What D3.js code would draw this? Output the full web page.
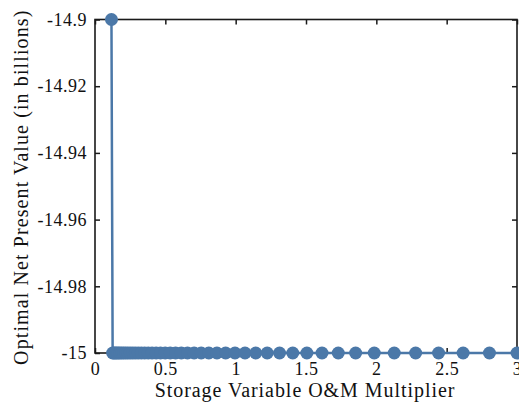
<!DOCTYPE html>
<html>
<head>
<meta charset="utf-8">
<script src="https://cdn.jsdelivr.net/npm/d3@7"></script>
<style>
  html, body { margin: 0; padding: 0; background: #fff; }
  svg { display: block; }
  text { font-family: "Liberation Serif", "DejaVu Serif", serif; fill: #111; }
</style>
</head>
<body>
<svg id="chart" width="519" height="409"></svg>
<script>
// Storage variable O&M multiplier values
const multipliers = [
  0.117, 0.1254, 0.1343, 0.1439, 0.1542, 0.1652, 0.1770, 0.1897, 0.2033, 0.2178,
  0.2334, 0.2501, 0.2680, 0.2871, 0.3077, 0.3297, 0.3532, 0.3785, 0.4055, 0.4345,
  0.4656, 0.4989, 0.5345, 0.5728, 0.6137, 0.6576, 0.7046, 0.7550, 0.8090, 0.8668,
  0.9288, 0.9952, 1.0664, 1.1426, 1.2243, 1.3119, 1.4057, 1.5062, 1.6139, 1.7293,
  1.8529, 1.9854, 2.1273, 2.2794, 2.4424, 2.6170, 2.8041, 3.0
];
// Optimal net present value (billions) at each multiplier
const npvValues = [
  -14.9, -15, -15, -15, -15, -15, -15, -15, -15, -15,
  -15, -15, -15, -15, -15, -15, -15, -15, -15, -15,
  -15, -15, -15, -15, -15, -15, -15, -15, -15, -15,
  -15, -15, -15, -15, -15, -15, -15, -15, -15, -15,
  -15, -15, -15, -15, -15, -15, -15, -15
];
const xTicks = [0, 0.5, 1, 1.5, 2, 2.5, 3];
const xTickLabels = ["0", "0.5", "1", "1.5", "2", "2.5", "3"];
const yTicks = [-15, -14.98, -14.96, -14.94, -14.92, -14.9];
const yTickLabels = ["-15", "-14.98", "-14.96", "-14.94", "-14.92", "-14.9"];

const W = 519, H = 409;
const margin = { top: 19.5, right: 2, bottom: 56, left: 95 };
const svg = d3.select("#chart");

const x = d3.scaleLinear().domain([0, 3]).range([margin.left, W - margin.right]);
const y = d3.scaleLinear().domain([-15, -14.9]).range([H - margin.bottom, margin.top]);

const axisColor = "#1a1a1a";
const tickLen = 5;

// Frame lines and inward ticks on all four sides
function styleAxis(g) {
  g.select(".domain").remove();
  g.selectAll(".tick line").attr("stroke", axisColor).attr("stroke-width", 1.5);
}

svg.append("g")
  .attr("transform", `translate(0,${y(-15)})`)
  .call(d3.axisBottom(x).tickValues(xTicks).tickSizeInner(-tickLen).tickSizeOuter(0)
    .tickFormat((d, i) => xTickLabels[i]).tickPadding(9))
  .call(styleAxis)
  .call(g => g.selectAll(".tick text").attr("font-size", 18).attr("fill", "#111")
    .attr("font-family", "'Liberation Serif', serif").attr("letter-spacing", 0.5));

svg.append("g")
  .attr("transform", `translate(0,${y(-14.9)})`)
  .call(d3.axisTop(x).tickValues(xTicks).tickSizeInner(-tickLen).tickSizeOuter(0).tickFormat(""))
  .call(styleAxis);

svg.append("g")
  .attr("transform", `translate(${x(0)},0)`)
  .call(d3.axisLeft(y).tickValues(yTicks).tickSizeInner(-tickLen).tickSizeOuter(0)
    .tickFormat((d, i) => yTickLabels[i]).tickPadding(8))
  .call(styleAxis)
  .call(g => g.selectAll(".tick text").attr("font-size", 18).attr("fill", "#111")
    .attr("font-family", "'Liberation Serif', serif").attr("letter-spacing", 0.5));

svg.append("g")
  .attr("transform", `translate(${x(3)},0)`)
  .call(d3.axisRight(y).tickValues(yTicks).tickSizeInner(-tickLen).tickSizeOuter(0).tickFormat(""))
  .call(styleAxis);

svg.append("rect")
  .attr("x", x(0)).attr("y", y(-14.9))
  .attr("width", x(3) - x(0)).attr("height", y(-15) - y(-14.9))
  .attr("fill", "none").attr("stroke", axisColor).attr("stroke-width", 1.6);

// Axis titles
svg.append("text")
  .attr("x", (x(0) + x(3)) / 2 - 1)
  .attr("y", 397)
  .attr("text-anchor", "middle")
  .attr("font-size", 20)
  .attr("letter-spacing", 0.95)
  .text("Storage Variable O&M Multiplier");

svg.append("text")
  .attr("transform", `translate(28,${(y(-15) + y(-14.9)) / 2 + 1}) rotate(-90)`)
  .attr("text-anchor", "middle")
  .attr("font-size", 20)
  .attr("letter-spacing", 1.1)
  .text("Optimal Net Present Value (in billions)");

// Series line and markers
const pts = multipliers.map((m, i) => ({ m, v: npvValues[i] }));
const color = "#4b78a8";

svg.append("path")
  .datum(pts)
  .attr("fill", "none")
  .attr("stroke", color)
  .attr("stroke-width", 2.5)
  .attr("d", d3.line().x(d => x(d.m)).y(d => y(d.v)));

svg.append("g")
  .selectAll("circle")
  .data(pts)
  .join("circle")
  .attr("cx", d => x(d.m))
  .attr("cy", d => y(d.v))
  .attr("r", 6.5)
  .attr("fill", color);
</script>
</body>
</html>
